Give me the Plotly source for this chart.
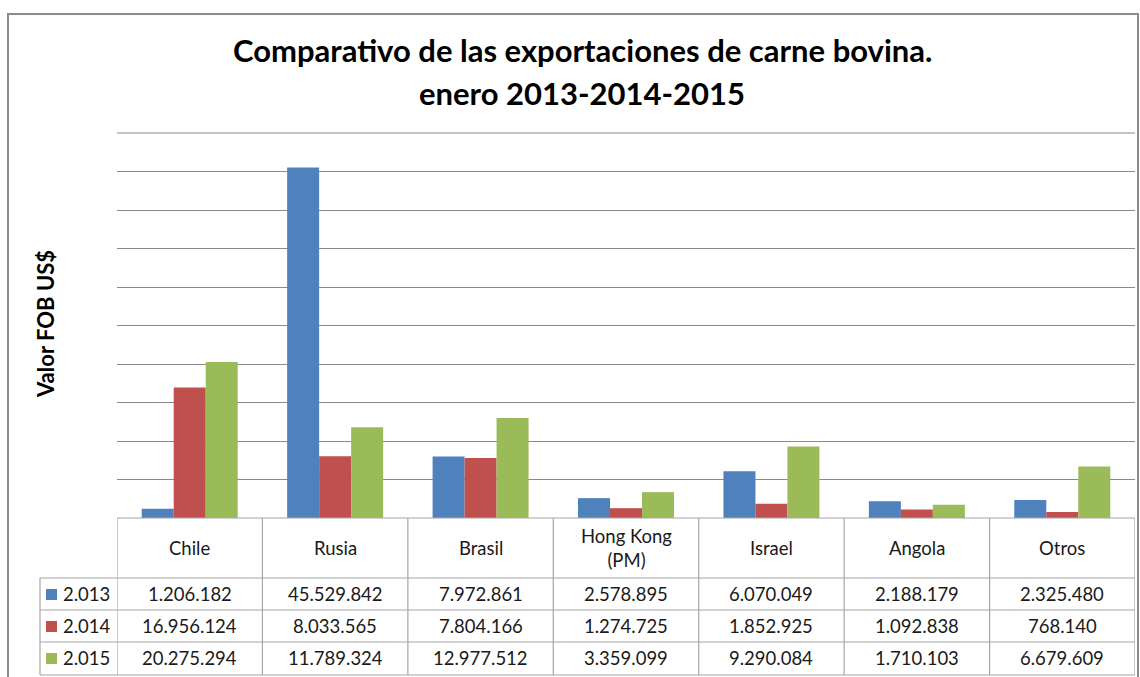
import plotly.graph_objects as go

categories = ["Chile", "Rusia", "Brasil", "Hong Kong<br>(PM)", "Israel", "Angola", "Otros"]
series_names = ["2.013", "2.014", "2.015"]
v2013 = [1206182, 45529842, 7972861, 2578895, 6070049, 2188179, 2325480]
v2014 = [16956124, 8033565, 7804166, 1274725, 1852925, 1092838, 768140]
v2015 = [20275294, 11789324, 12977512, 3359099, 9290084, 1710103, 6679609]
colors = ["#4F81BD", "#C0504D", "#9BBB59"]

W, H = 1140, 677
L, R, T, B = 117, 1135, 133, 518  # plot area in px

def yp(py):
    return (B - py) / (B - T)

def xp(px):
    return (px - L) / (R - L)

def fmt(v):
    return f"{v:,}".replace(",", ".")

fig = go.Figure()
all_series = [v2013, v2014, v2015]
for name, vals, c in zip(series_names, all_series, colors):
    fig.add_trace(go.Bar(x=list(range(len(categories))), y=vals, name=name,
                         marker=dict(color=c, line=dict(width=0))))

FONT = "Lato, 'Open Sans', sans-serif"
TS = 18.5
shapes = []
annotations = []

# outer chart border
shapes.append(dict(type="rect", xref="paper", yref="paper",
                   x0=xp(8), x1=xp(1138), y0=yp(690), y1=yp(14),
                   line=dict(color="#8c8c8c", width=2), layer="below"))

# top light gridline
shapes.append(dict(type="line", xref="paper", yref="paper", x0=0, x1=1, y0=1, y1=1,
                   line=dict(color="#c4c4c4", width=2)))

tc = "#a6a6a6"
n = len(categories)
row_edges = [518, 578, 610, 642, 675]
shapes.append(dict(type="line", xref="paper", yref="paper", x0=0, x1=1,
                   y0=yp(518), y1=yp(518), line=dict(color=tc, width=1.2)))
for ry in row_edges[1:]:
    shapes.append(dict(type="line", xref="paper", yref="paper", x0=xp(40), x1=1,
                       y0=yp(ry), y1=yp(ry), line=dict(color=tc, width=1.2)))
for i in range(n + 1):
    xv = i - 0.5
    shapes.append(dict(type="line", xref="x", yref="paper", x0=xv, x1=xv,
                       y0=yp(518), y1=yp(675), line=dict(color=tc, width=1.2)))
shapes.append(dict(type="line", xref="paper", yref="paper", x0=xp(40), x1=xp(40),
                   y0=yp(578), y1=yp(675), line=dict(color=tc, width=1.2)))

def ann(**kw):
    kw.setdefault("showarrow", False)
    kw.setdefault("xanchor", "center")
    kw.setdefault("yanchor", "middle")
    annotations.append(kw)

for i, cat in enumerate(categories):
    ann(x=i, y=yp(548), xref="x", yref="paper", text=cat,
        font=dict(family=FONT, size=TS, color="#1a1a1a"))

row_centers = [594, 626, 658]
for r, (name, vals, c) in enumerate(zip(series_names, all_series, colors)):
    yc = row_centers[r]
    shapes.append(dict(type="rect", xref="paper", yref="paper",
                       x0=xp(46), x1=xp(57), y0=yp(yc + 6), y1=yp(yc - 5),
                       fillcolor=c, line=dict(width=0)))
    ann(x=xp(61), y=yp(yc), xref="paper", yref="paper", text=name, xanchor="left",
        font=dict(family=FONT, size=TS, color="#1a1a1a"))
    for i, v in enumerate(vals):
        ann(x=i, y=yp(yc), xref="x", yref="paper", text=fmt(v),
            font=dict(family=FONT, size=TS, color="#1a1a1a"))

ann(x=xp(582), y=yp(50), xref="paper", yref="paper",
    text="<b>Comparativo de las exportaciones de carne bovina.</b>",
    font=dict(family=FONT, size=31, color="#000000"))
ann(x=xp(582), y=yp(93), xref="paper", yref="paper",
    text="<b>enero 2013-2014-2015</b>",
    font=dict(family=FONT, size=31, color="#000000"))
ann(x=xp(45), y=yp(324), xref="paper", yref="paper",
    text="<b>Valor FOB US$</b>", textangle=-90,
    font=dict(family=FONT, size=22, color="#000000"))

fig.update_layout(
    width=W, height=H,
    margin=dict(l=L, r=W - R, t=T, b=H - B),
    paper_bgcolor="white", plot_bgcolor="white",
    barmode="group", bargap=0.34, bargroupgap=0,
    showlegend=False,
    xaxis=dict(range=[-0.5, n - 0.5], showticklabels=False, showgrid=False,
               zeroline=False, showline=False, ticks=""),
    yaxis=dict(range=[0, 50000000], dtick=5000000, showticklabels=False,
               showgrid=True, gridcolor="#8a8a8a", gridwidth=1.2,
               zeroline=False, showline=False, ticks=""),
    shapes=shapes, annotations=annotations,
)

fig.write_html("out.html", config={"displayModeBar": False},
               post_script="document.body.style.margin='0';document.body.style.overflow='hidden';")
